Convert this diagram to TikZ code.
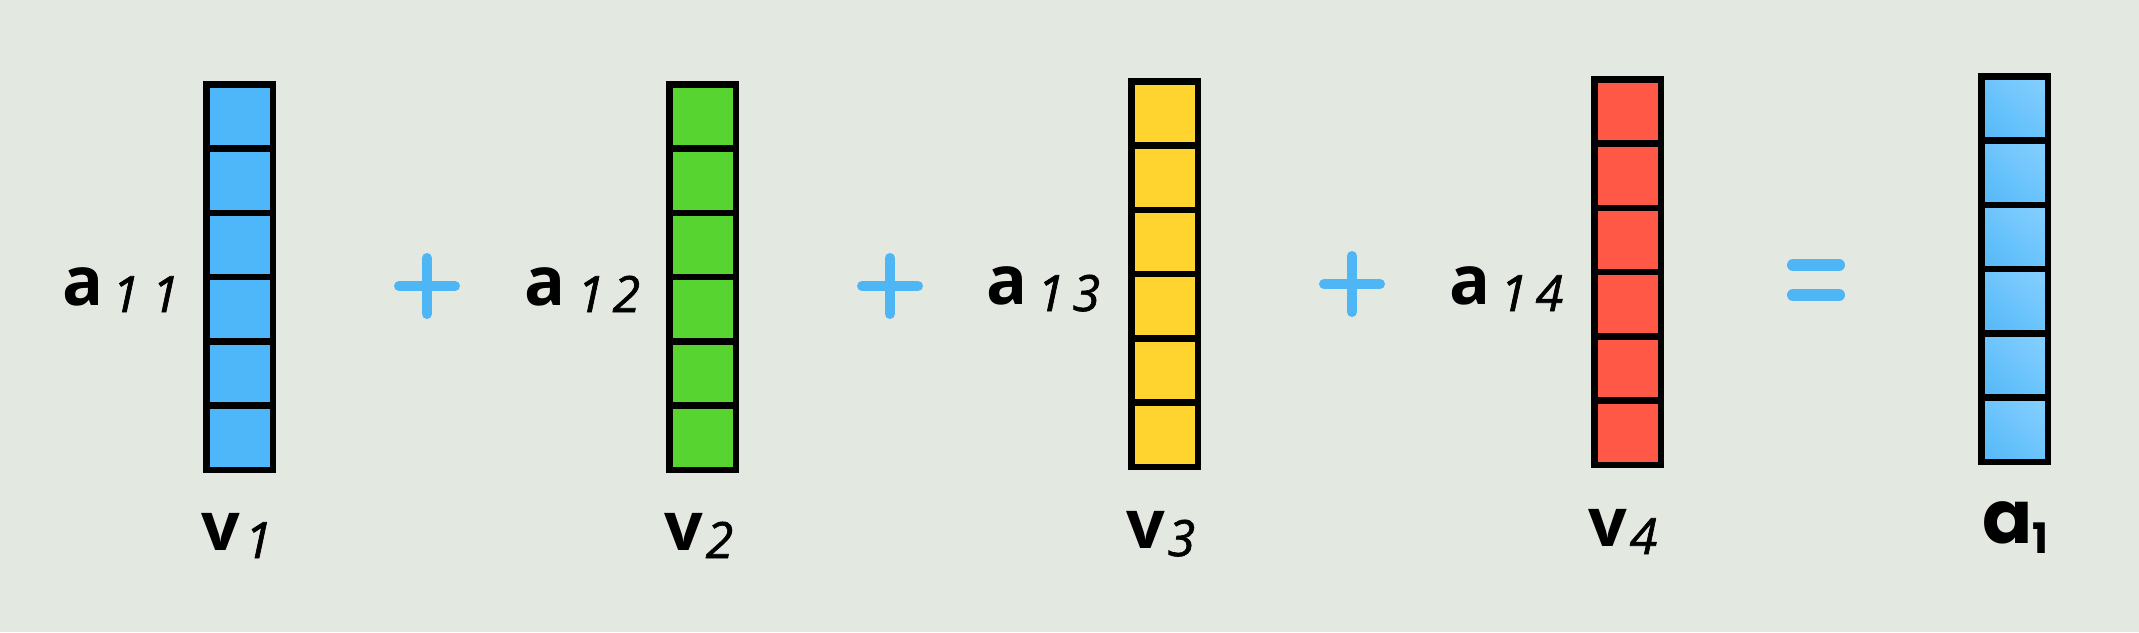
\documentclass[tikz,border=0pt]{standalone}
\usepackage{fontspec}
\usetikzlibrary{calc,shadings}
\newfontfamily\coeffont{Open Sans}
\newfontfamily\digfont{Open Sans}[ItalicFeatures={FakeBold=1.3}]
\newfontfamily\resfont{Poppins}
\definecolor{bgc}{HTML}{E3E8E1}
\definecolor{vblue}{HTML}{4DB7FA}
\definecolor{vgreen}{HTML}{58D430}
\definecolor{vyellow}{HTML}{FFD42E}
\definecolor{vred}{HTML}{FF5846}
\definecolor{opblue}{HTML}{4FB6F5}
\definecolor{gradA}{HTML}{52B8F8}
\definecolor{gradB}{HTML}{6CC4FC}
\definecolor{gradC}{HTML}{88D0FF}
\newcommand\coef{\coeffont\bfseries\fontsize{68}{68}\selectfont}
\newcommand\digs{\digfont\mdseries\itshape\fontsize{50}{50}\selectfont}
\newcommand\colvec[4]{%
  \node[vecbox, fill=#4, anchor=north west] (#1) at ({#2+3.25},{#3+3.25}) {};
  \foreach \k in {1,...,5}
    \draw[cellline] ($(#1.north west)!\k/6!(#1.south west)$) -- ($(#1.north east)!\k/6!(#1.south east)$);
}
\tikzset{
  vecbox/.style={draw=black, line width=6.5pt, inner sep=0pt, outer sep=0pt,
    minimum width=66.5pt, minimum height=385.5pt, rectangle},
  cellline/.style={draw=black, line width=6.5pt},
  opsign/.style={draw=opblue, line width=10pt, line cap=round},
  eqsign/.style={draw=opblue, line width=12pt, line cap=round},
  lab/.style={anchor=base west, inner sep=0pt, outer sep=0pt}
}
\begin{document}
\begin{tikzpicture}[x=1pt,y=-1pt]
\fill[bgc] (0,0) rectangle (2139,632);
\useasboundingbox (0,0) rectangle (2139,632);

% vectors
\colvec{v1box}{203}{81}{vblue}
\colvec{v2box}{666}{81}{vgreen}
\colvec{v3box}{1128}{78}{vyellow}
\colvec{v4box}{1591}{76}{vred}

% result vector with gradient cells
\foreach \k in {0,...,5}
  \shade[lower left=gradA, upper left=gradB, lower right=gradB, upper right=gradC]
    (1981.25,{76.25+\k*64.25}) rectangle (2047.75,{76.25+(\k+1)*64.25});
\node[vecbox, anchor=north west] (a1box) at (1981.25,76.25) {};
\foreach \k in {1,...,5}
  \draw[cellline] ($(a1box.north west)!\k/6!(a1box.south west)$) -- ($(a1box.north east)!\k/6!(a1box.south east)$);

% plus signs
\coordinate (p1) at (427,286);
\coordinate (p2) at (890,286);
\coordinate (p3) at (1352,284);
\foreach \p in {p1,p2,p3}{
  \draw[opsign] ($(\p)+(-28,0)$) -- ($(\p)+(28,0)$);
  \draw[opsign] ($(\p)+(0,-28)$) -- ($(\p)+(0,28)$);
}
% equals sign
\coordinate (eq) at (1816,280);
\draw[eqsign] ($(eq)+(-23,-15)$) -- ($(eq)+(23,-15)$);
\draw[eqsign] ($(eq)+(-23,15)$) -- ($(eq)+(23,15)$);

% coefficient labels
\node[lab] (a11) at (62,305) {\coef a\hspace{9pt}\raisebox{-7pt}{\digs 1\hspace{12pt}1}};
\node[lab] (a12) at (524,305) {\coef a\hspace{12pt}\raisebox{-7pt}{\digs 1\hspace{8pt}2}};
\node[lab] (a13) at (986,304) {\coef a\hspace{10pt}\raisebox{-7pt}{\digs 1\hspace{8pt}3}};
\node[lab] (a14) at (1449,304) {\coef a\hspace{10pt}\raisebox{-7pt}{\digs 1\hspace{8pt}4}};

% vector names
\node[lab] (v1lab) at (201,550) {\coef v\hspace{5pt}\raisebox{-8pt}{\digs 1}};
\node[lab] (v2lab) at (664,550) {\coef v\hspace{3pt}\raisebox{-8pt}{\digs 2}};
\node[lab] (v3lab) at (1126,548) {\coef v\hspace{3pt}\raisebox{-8pt}{\digs 3}};
\node[lab] (v4lab) at (1588,546) {\coef v\hspace{3pt}\raisebox{-8pt}{\digs 4}};

% result name
\node[lab] (a1lab) at (1982,543) {\resfont\bfseries\fontsize{74}{74}\selectfont a\raisebox{-10pt}{\fontsize{42}{42}\selectfont 1}};
\end{tikzpicture}
\end{document}
